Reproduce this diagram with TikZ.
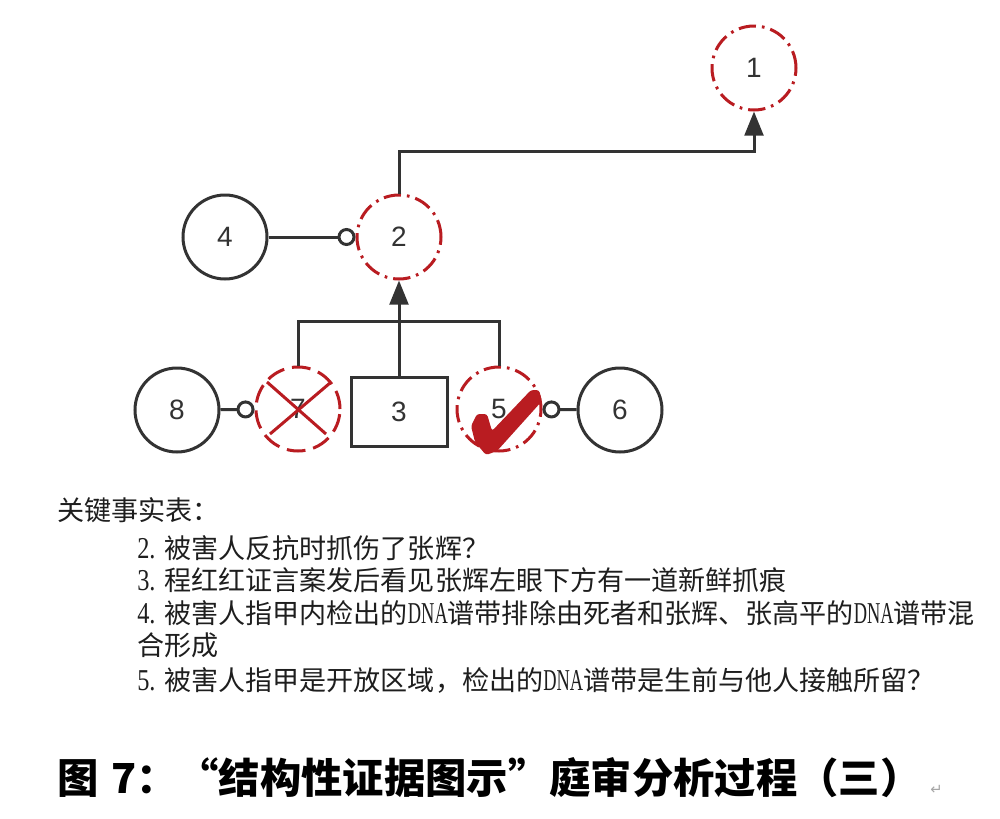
\documentclass[tikz,border=0pt]{standalone}
\usepackage{fontspec}
\usepackage{graphicx}
\setmainfont{Liberation Sans}
\newfontfamily\cjk{Noto Sans CJK SC}
\newfontfamily\latserif{Liberation Serif}
\newfontfamily\dejavu{DejaVu Sans}
\usetikzlibrary{arrows.meta}
\definecolor{myred}{RGB}{185,28,33}
\definecolor{ink}{RGB}{51,51,51}
\definecolor{txt}{RGB}{30,30,30}
\newcommand\dna{\scalebox{0.68}[1.12]{\latserif DNA}}
\newcommand\itemnum[1]{\makebox[1em][l]{\scalebox{0.9}[1.12]{\latserif #1}}}
\tikzset{
  conn/.style={draw=ink, line width=2.25pt},
  numf/.style={font=\fontsize{21}{21}\selectfont, text=ink},
  blk/.style={circle, draw=ink, line width=2.25pt, minimum size=63pt, inner sep=0pt, numf},
  redc/.style={circle, draw=myred, line width=2.25pt, minimum size=63pt, inner sep=0pt, numf,
     dash pattern=on 13pt off 4.5pt on 2pt off 4.5pt},
  reddash/.style={circle, draw=myred, line width=2.25pt, minimum size=63pt, inner sep=0pt, numf,
     dash pattern=on 14pt off 6pt},
  boxn/.style={rectangle, draw=ink, line width=2.25pt, minimum width=72pt, minimum height=51.75pt, inner sep=0pt, numf},
  arr/.style={conn, -{Triangle[length=18pt,width=14pt]}},
  ball/.style={conn, -{Circle[open,length=13.5pt]}},
  body/.style={anchor=west, inner sep=0pt, text=txt, font=\cjk\fontsize{20.3}{20.3}\selectfont},
}
\begin{document}
\begin{tikzpicture}[x=0.75pt,y=-0.75pt]
\useasboundingbox (0,0) rectangle (1000,818);
\fill[white] (0,0) rectangle (1000,818);

% check mark over 5 (behind the label)
\fill[myred, rounded corners=2pt] (471,426) -- (477,414) -- (487,414) -- (492,431)
  -- (531,390) -- (539,390) -- (542,401) -- (497,451) -- (486,455) -- (475,442) -- cycle;

% nodes
\node[redc] (n1) at (754,68) {1};
\node[redc] (n2) at (399,237) {2};
\node[blk] (n4) at (225,237) {4};
\node[blk] (n8) at (177,410) {8};
\node[reddash] (n7) at (298,409) {7};
\node[boxn] (n3) at (399,412) {3};
\node[redc] (n5) at (499,409) {5};
\node[blk] (n6) at (620,410) {6};

% red cross over 7
\draw[myred, line width=2.25pt] (267,382) -- (326,434);
\draw[myred, line width=2.25pt] (270,434) -- (330,383);

% connectors
\coordinate (k) at (399,151);
\draw[arr] (n2.north) -- (k) -| (n1.south);
\draw[arr] (n3.north) -- (n2.south);
\coordinate (j) at (399,321);
\draw[conn] (n7.north) |- (j) -| (n5.north);
\draw[ball] (n4) -- (n2);
\draw[ball] (n8) -- (n7);
\draw[ball] (n6) -- (n5);

% text
\node[body] (t0) at (57,510) {关键事实表：};
\node[body] (t1) at (137,548) {\itemnum{2.}被害人反抗时抓伤了张辉？};
\node[body] (t2) at (137,580) {\itemnum{3.}程红红证言案发后看见张辉左眼下方有一道新鲜抓痕};
\node[body] (t3) at (137,613) {\itemnum{4.}被害人指甲内检出的\dna 谱带排除由死者和张辉、张高平的\dna 谱带混};
\node[body] (t4) at (137,645) {合形成};
\node[body] (t5) at (137,680) {\itemnum{5.}被害人指甲是开放区域，检出的\dna 谱带是生前与他人接触所留？};

\node[anchor=west, inner sep=0pt, text=black, font=\cjk\bfseries\fontsize{31}{31}\selectfont] (cap) at (57,778)
  {图\hspace{0.3em}7：“结构性证据图示”庭审分析过程（三）};
\node[anchor=west, inner sep=0pt, text=gray!70, font=\dejavu\fontsize{11}{11}\selectfont] (ret) at (930,790) {↵};
\end{tikzpicture}
\end{document}
